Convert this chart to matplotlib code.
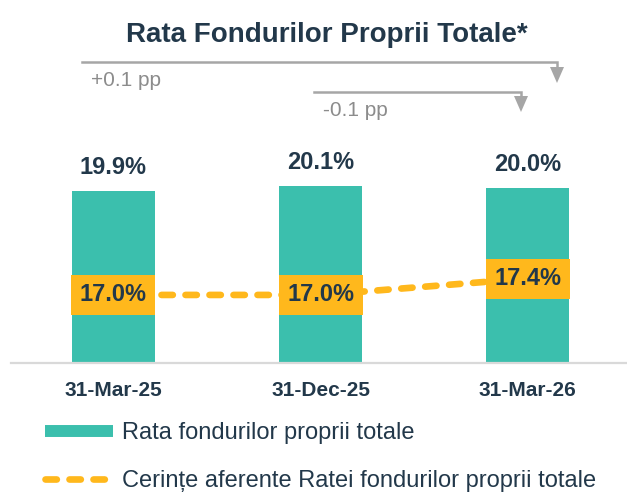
import numpy as np
import matplotlib
matplotlib.use("Agg")
import matplotlib.pyplot as plt
from matplotlib.lines import Line2D
from matplotlib.patches import Polygon

# data
dates = ["31-Mar-25", "31-Dec-25", "31-Mar-26"]
ratio_total = [19.9, 20.1, 20.0]
requirement = [17.0, 17.0, 17.4]
change_labels = ["+0.1 pp", "-0.1 pp"]

TEAL = "#3BBFAD"
ORANGE = "#FFB81C"
DARK = "#22384A"
GREY = "#A6A6A6"

plt.rcParams["font.family"] = ["Liberation Sans", "DejaVu Sans"]

W, H = 627, 493
fig = plt.figure(figsize=(W / 100, H / 100), dpi=100)

# main axes: bottom spine at y=363 px, top at 140 px
ax = fig.add_axes([11 / W, (H - 363) / H, 1 - 11 / W, (363 - 140) / H])
x = np.arange(len(dates))
ax.bar(x, ratio_total, width=0.4, color=TEAL, zorder=2)
ax.set_xlim(-0.495, 2.48)
ax.set_ylim(13.02, 13.02 + 223 / 25)
for xi, v in zip(x, ratio_total):
    ax.annotate(f"{v:.1f}%", xy=(xi, v), xytext=(0, 17), textcoords="offset points",
                ha="center", va="center", fontsize=17, fontweight="bold", color=DARK)

for s in ["top", "left", "right"]:
    ax.spines[s].set_visible(False)
ax.spines["bottom"].set_color("#D9D9D9")
ax.spines["bottom"].set_linewidth(1.6)
ax.set_yticks([])
ax.set_xticks(x)
ax.set_xticklabels(dates, fontsize=15, fontweight="bold", color=DARK)
ax.tick_params(axis="x", length=0, pad=13)

# requirement line on its own scale
ax2 = ax.twinx()
ax2.set_ylim(15.34, 15.34 + 223 / 41)
ax2.set_xlim(ax.get_xlim())
ax2.plot(x, requirement, color=ORANGE, lw=4.8, dashes=(1.7, 1.9),
         dash_capstyle="round", zorder=2)
for xi, v in zip(x, requirement):
    ax2.text(xi, v, f"{v:.1f}%", ha="center", va="center", fontsize=17,
             fontweight="bold", color=DARK, zorder=4,
             bbox=dict(boxstyle="square,pad=0.36", fc=ORANGE, ec="none"))
ax2.axis("off")

# title
fig.text(327 / W, 1 - 42 / H, "Rata Fondurilor Proprii Totale*", ha="center",
         va="baseline", fontsize=20, fontweight="bold", color=DARK)

# change arrows (pixel overlay)
ov = fig.add_axes([0, 0, 1, 1], facecolor="none")
ov.set_xlim(0, W)
ov.set_ylim(H, 0)
ov.axis("off")
arrows = [(82, 557, 62, 83), (314, 521, 92, 112)]
for (x0, x1, y0, tip), lab in zip(arrows, change_labels):
    ov.plot([x0, x1, x1], [y0, y0, tip - 14], color=GREY, lw=1.8,
            solid_joinstyle="miter")
    ov.add_patch(Polygon([[x1 - 7, tip - 16], [x1 + 7, tip - 16], [x1, tip]],
                         closed=True, color=GREY, lw=0))
    ov.text(x0 + 9, y0 + 24, lab, ha="left", va="baseline", fontsize=15,
            color="#8C8C8C")

# legend
handles = [Line2D([], [], color=TEAL, lw=8.6, solid_capstyle="butt"),
           Line2D([], [], color=ORANGE, lw=4.8, dashes=(1.7, 1.9),
                  dash_capstyle="round")]
fig.legend(handles, ["Rata fondurilor proprii totale",
                     "Cerințe aferente Ratei fondurilor proprii totale"],
           loc="upper left", bbox_to_anchor=(45 / W, 1 - 422 / H),
           frameon=False, fontsize=17, handlelength=2.9, handletextpad=0.34,
           labelspacing=1.1, borderpad=0, borderaxespad=0, labelcolor=DARK)

fig.savefig("out.png", dpi=100)
